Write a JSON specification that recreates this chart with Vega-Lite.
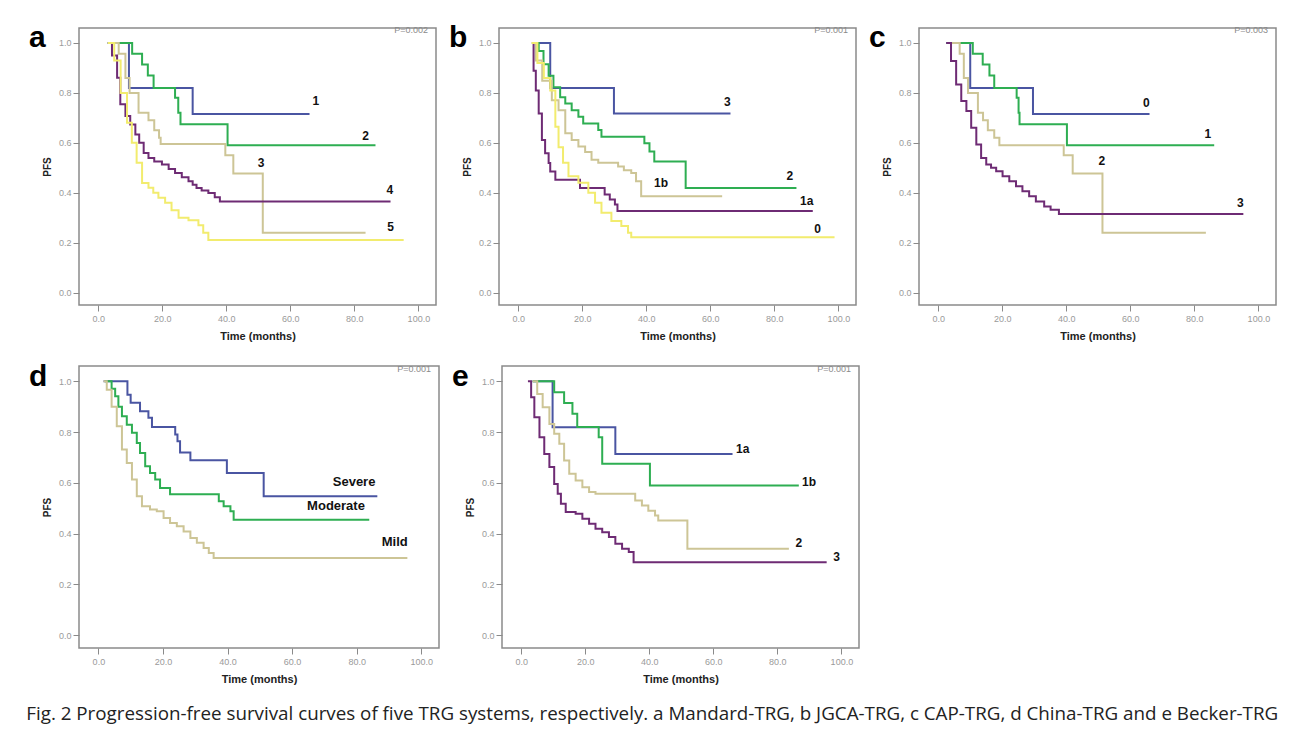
{
 "$schema": "https://vega.github.io/schema/vega-lite/v6.json",
 "padding": {"left": 26, "top": 22, "right": 5, "bottom": 5},
 "datasets": {
  "km": [
   {"p":"a","g":"1","t":3,"s":1},{"p":"a","g":"1","t":9.6,"s":0.82},{"p":"a","g":"1","t":29.5,"s":0.715},{"p":"a","g":"1","t":66,"s":0.715},
   {"p":"a","g":"2","t":3,"s":1},{"p":"a","g":"2","t":10.6,"s":0.957},{"p":"a","g":"2","t":13.7,"s":0.914},{"p":"a","g":"2","t":15.5,"s":0.87},{"p":"a","g":"2","t":17.3,"s":0.82},{"p":"a","g":"2","t":24,"s":0.78},{"p":"a","g":"2","t":25,"s":0.72},{"p":"a","g":"2","t":25.7,"s":0.674},{"p":"a","g":"2","t":40.4,"s":0.59},{"p":"a","g":"2","t":86.6,"s":0.59},
   {"p":"a","g":"3","t":3,"s":1},{"p":"a","g":"3","t":6.4,"s":0.957},{"p":"a","g":"3","t":8.5,"s":0.86},{"p":"a","g":"3","t":9.8,"s":0.8},{"p":"a","g":"3","t":12.6,"s":0.72},{"p":"a","g":"3","t":15.7,"s":0.69},{"p":"a","g":"3","t":17.5,"s":0.65},{"p":"a","g":"3","t":19,"s":0.62},{"p":"a","g":"3","t":19.5,"s":0.595},{"p":"a","g":"3","t":39.7,"s":0.55},{"p":"a","g":"3","t":42.2,"s":0.477},{"p":"a","g":"3","t":51.4,"s":0.24},{"p":"a","g":"3","t":83.5,"s":0.24},
   {"p":"a","g":"4","t":3,"s":1},{"p":"a","g":"4","t":4.3,"s":0.95},{"p":"a","g":"4","t":5.9,"s":0.861},{"p":"a","g":"4","t":6.9,"s":0.754},{"p":"a","g":"4","t":8.5,"s":0.707},{"p":"a","g":"4","t":10,"s":0.673},{"p":"a","g":"4","t":11.6,"s":0.633},{"p":"a","g":"4","t":12.8,"s":0.6},{"p":"a","g":"4","t":14.2,"s":0.559},{"p":"a","g":"4","t":15.7,"s":0.539},{"p":"a","g":"4","t":17.5,"s":0.525},{"p":"a","g":"4","t":19.9,"s":0.513},{"p":"a","g":"4","t":22,"s":0.495},{"p":"a","g":"4","t":24,"s":0.479},{"p":"a","g":"4","t":26.1,"s":0.462},{"p":"a","g":"4","t":28.2,"s":0.446},{"p":"a","g":"4","t":29.5,"s":0.432},{"p":"a","g":"4","t":30.7,"s":0.419},{"p":"a","g":"4","t":32.3,"s":0.409},{"p":"a","g":"4","t":34.4,"s":0.399},{"p":"a","g":"4","t":36.4,"s":0.382},{"p":"a","g":"4","t":38,"s":0.365},{"p":"a","g":"4","t":91.3,"s":0.365},
   {"p":"a","g":"5","t":3,"s":1},{"p":"a","g":"5","t":5,"s":0.93},{"p":"a","g":"5","t":7,"s":0.8},{"p":"a","g":"5","t":9,"s":0.68},{"p":"a","g":"5","t":10.5,"s":0.6},{"p":"a","g":"5","t":12,"s":0.52},{"p":"a","g":"5","t":13.7,"s":0.439},{"p":"a","g":"5","t":15.7,"s":0.42},{"p":"a","g":"5","t":17.2,"s":0.4},{"p":"a","g":"5","t":18.8,"s":0.38},{"p":"a","g":"5","t":20.9,"s":0.36},{"p":"a","g":"5","t":22.9,"s":0.33},{"p":"a","g":"5","t":25.1,"s":0.3},{"p":"a","g":"5","t":28.2,"s":0.29},{"p":"a","g":"5","t":31.3,"s":0.27},{"p":"a","g":"5","t":32.8,"s":0.24},{"p":"a","g":"5","t":34.4,"s":0.21},{"p":"a","g":"5","t":95.4,"s":0.21},

   {"p":"b","g":"3","t":4.3,"s":1},{"p":"b","g":"3","t":10,"s":0.82},{"p":"b","g":"3","t":29.9,"s":0.717},{"p":"b","g":"3","t":66.3,"s":0.717},
   {"p":"b","g":"2","t":4.3,"s":1},{"p":"b","g":"2","t":6.4,"s":0.968},{"p":"b","g":"2","t":7.9,"s":0.915},{"p":"b","g":"2","t":9.5,"s":0.869},{"p":"b","g":"2","t":11,"s":0.823},{"p":"b","g":"2","t":13.1,"s":0.783},{"p":"b","g":"2","t":14.7,"s":0.757},{"p":"b","g":"2","t":16.7,"s":0.73},{"p":"b","g":"2","t":18.8,"s":0.704},{"p":"b","g":"2","t":20.3,"s":0.677},{"p":"b","g":"2","t":25,"s":0.651},{"p":"b","g":"2","t":26,"s":0.624},{"p":"b","g":"2","t":39.4,"s":0.598},{"p":"b","g":"2","t":41,"s":0.565},{"p":"b","g":"2","t":42.5,"s":0.525},{"p":"b","g":"2","t":52.3,"s":0.419},{"p":"b","g":"2","t":86.9,"s":0.419},
   {"p":"b","g":"1b","t":4.2,"s":1},{"p":"b","g":"1b","t":5.5,"s":0.93},{"p":"b","g":"1b","t":7.5,"s":0.849},{"p":"b","g":"1b","t":10.5,"s":0.77},{"p":"b","g":"1b","t":12.6,"s":0.73},{"p":"b","g":"1b","t":14.7,"s":0.638},{"p":"b","g":"1b","t":16.7,"s":0.611},{"p":"b","g":"1b","t":18.8,"s":0.585},{"p":"b","g":"1b","t":20.9,"s":0.563},{"p":"b","g":"1b","t":22.9,"s":0.532},{"p":"b","g":"1b","t":25,"s":0.52},{"p":"b","g":"1b","t":31.2,"s":0.505},{"p":"b","g":"1b","t":33,"s":0.49},{"p":"b","g":"1b","t":35.3,"s":0.479},{"p":"b","g":"1b","t":36.8,"s":0.446},{"p":"b","g":"1b","t":38.4,"s":0.386},{"p":"b","g":"1b","t":63.7,"s":0.386},
   {"p":"b","g":"1a","t":4.3,"s":1},{"p":"b","g":"1a","t":4.8,"s":0.889},{"p":"b","g":"1a","t":5.5,"s":0.81},{"p":"b","g":"1a","t":6.4,"s":0.717},{"p":"b","g":"1a","t":7.4,"s":0.611},{"p":"b","g":"1a","t":8.4,"s":0.558},{"p":"b","g":"1a","t":9.5,"s":0.519},{"p":"b","g":"1a","t":10,"s":0.485},{"p":"b","g":"1a","t":11.6,"s":0.452},{"p":"b","g":"1a","t":19.3,"s":0.419},{"p":"b","g":"1a","t":27,"s":0.393},{"p":"b","g":"1a","t":28.6,"s":0.373},{"p":"b","g":"1a","t":30.2,"s":0.353},{"p":"b","g":"1a","t":31,"s":0.327},{"p":"b","g":"1a","t":92,"s":0.327},
   {"p":"b","g":"0","t":4.2,"s":1},{"p":"b","g":"0","t":6,"s":0.92},{"p":"b","g":"0","t":8,"s":0.86},{"p":"b","g":"0","t":10,"s":0.81},{"p":"b","g":"0","t":11.6,"s":0.664},{"p":"b","g":"0","t":12.6,"s":0.582},{"p":"b","g":"0","t":14,"s":0.52},{"p":"b","g":"0","t":15.7,"s":0.466},{"p":"b","g":"0","t":18.8,"s":0.44},{"p":"b","g":"0","t":21.9,"s":0.4},{"p":"b","g":"0","t":24,"s":0.36},{"p":"b","g":"0","t":26,"s":0.32},{"p":"b","g":"0","t":29.1,"s":0.287},{"p":"b","g":"0","t":32.2,"s":0.267},{"p":"b","g":"0","t":34.3,"s":0.24},{"p":"b","g":"0","t":35.3,"s":0.221},{"p":"b","g":"0","t":98.8,"s":0.221},

   {"p":"c","g":"0","t":2.6,"s":1},{"p":"c","g":"0","t":10,"s":0.82},{"p":"c","g":"0","t":29.6,"s":0.715},{"p":"c","g":"0","t":66,"s":0.715},
   {"p":"c","g":"1","t":2.6,"s":1},{"p":"c","g":"1","t":10.8,"s":0.957},{"p":"c","g":"1","t":13.9,"s":0.914},{"p":"c","g":"1","t":16,"s":0.87},{"p":"c","g":"1","t":17.5,"s":0.82},{"p":"c","g":"1","t":24.5,"s":0.78},{"p":"c","g":"1","t":25.1,"s":0.72},{"p":"c","g":"1","t":25.4,"s":0.674},{"p":"c","g":"1","t":40.2,"s":0.59},{"p":"c","g":"1","t":86.2,"s":0.59},
   {"p":"c","g":"2","t":3,"s":1},{"p":"c","g":"2","t":6.7,"s":0.957},{"p":"c","g":"2","t":8,"s":0.86},{"p":"c","g":"2","t":9.3,"s":0.8},{"p":"c","g":"2","t":12.4,"s":0.72},{"p":"c","g":"2","t":14,"s":0.69},{"p":"c","g":"2","t":15.5,"s":0.65},{"p":"c","g":"2","t":17.5,"s":0.62},{"p":"c","g":"2","t":19.1,"s":0.59},{"p":"c","g":"2","t":39.2,"s":0.55},{"p":"c","g":"2","t":42,"s":0.477},{"p":"c","g":"2","t":51.3,"s":0.24},{"p":"c","g":"2","t":83.6,"s":0.24},
   {"p":"c","g":"3","t":2.5,"s":1},{"p":"c","g":"3","t":4,"s":0.928},{"p":"c","g":"3","t":5.6,"s":0.834},{"p":"c","g":"3","t":7.2,"s":0.767},{"p":"c","g":"3","t":8.8,"s":0.727},{"p":"c","g":"3","t":10.3,"s":0.66},{"p":"c","g":"3","t":11.9,"s":0.593},{"p":"c","g":"3","t":13.4,"s":0.539},{"p":"c","g":"3","t":15,"s":0.513},{"p":"c","g":"3","t":16.5,"s":0.5},{"p":"c","g":"3","t":18.1,"s":0.486},{"p":"c","g":"3","t":20.1,"s":0.466},{"p":"c","g":"3","t":22.2,"s":0.446},{"p":"c","g":"3","t":24.3,"s":0.426},{"p":"c","g":"3","t":26.3,"s":0.406},{"p":"c","g":"3","t":28.4,"s":0.386},{"p":"c","g":"3","t":30.5,"s":0.365},{"p":"c","g":"3","t":33.1,"s":0.345},{"p":"c","g":"3","t":35.1,"s":0.332},{"p":"c","g":"3","t":37.7,"s":0.315},{"p":"c","g":"3","t":95.3,"s":0.315},

   {"p":"d","g":"Severe","t":1.6,"s":1},{"p":"d","g":"Severe","t":9,"s":0.947},{"p":"d","g":"Severe","t":10,"s":0.915},{"p":"d","g":"Severe","t":12.9,"s":0.882},{"p":"d","g":"Severe","t":15.5,"s":0.856},{"p":"d","g":"Severe","t":16.6,"s":0.82},{"p":"d","g":"Severe","t":23.8,"s":0.79},{"p":"d","g":"Severe","t":24.5,"s":0.764},{"p":"d","g":"Severe","t":25.3,"s":0.72},{"p":"d","g":"Severe","t":28.5,"s":0.689},{"p":"d","g":"Severe","t":39.8,"s":0.639},{"p":"d","g":"Severe","t":51.2,"s":0.547},{"p":"d","g":"Severe","t":86.4,"s":0.547},
   {"p":"d","g":"Moderate","t":2,"s":1},{"p":"d","g":"Moderate","t":4.1,"s":0.97},{"p":"d","g":"Moderate","t":5.2,"s":0.941},{"p":"d","g":"Moderate","t":6.2,"s":0.9},{"p":"d","g":"Moderate","t":7.3,"s":0.862},{"p":"d","g":"Moderate","t":8.8,"s":0.829},{"p":"d","g":"Moderate","t":10.4,"s":0.797},{"p":"d","g":"Moderate","t":11.9,"s":0.757},{"p":"d","g":"Moderate","t":12.9,"s":0.718},{"p":"d","g":"Moderate","t":14.5,"s":0.665},{"p":"d","g":"Moderate","t":16,"s":0.639},{"p":"d","g":"Moderate","t":17.6,"s":0.613},{"p":"d","g":"Moderate","t":19.1,"s":0.58},{"p":"d","g":"Moderate","t":22.2,"s":0.555},{"p":"d","g":"Moderate","t":37.3,"s":0.528},{"p":"d","g":"Moderate","t":38.8,"s":0.508},{"p":"d","g":"Moderate","t":40.9,"s":0.488},{"p":"d","g":"Moderate","t":41.9,"s":0.455},{"p":"d","g":"Moderate","t":83.9,"s":0.455},
   {"p":"d","g":"Mild","t":1.6,"s":1},{"p":"d","g":"Mild","t":2.6,"s":0.967},{"p":"d","g":"Mild","t":4.1,"s":0.9},{"p":"d","g":"Mild","t":5.7,"s":0.823},{"p":"d","g":"Mild","t":7.3,"s":0.731},{"p":"d","g":"Mild","t":8.8,"s":0.678},{"p":"d","g":"Mild","t":10.4,"s":0.613},{"p":"d","g":"Mild","t":11.9,"s":0.547},{"p":"d","g":"Mild","t":13.5,"s":0.508},{"p":"d","g":"Mild","t":16,"s":0.495},{"p":"d","g":"Mild","t":18.1,"s":0.488},{"p":"d","g":"Mild","t":20.2,"s":0.462},{"p":"d","g":"Mild","t":22.2,"s":0.442},{"p":"d","g":"Mild","t":24.3,"s":0.429},{"p":"d","g":"Mild","t":26.4,"s":0.409},{"p":"d","g":"Mild","t":28.5,"s":0.383},{"p":"d","g":"Mild","t":30.5,"s":0.364},{"p":"d","g":"Mild","t":32.6,"s":0.344},{"p":"d","g":"Mild","t":34.2,"s":0.324},{"p":"d","g":"Mild","t":35.7,"s":0.304},{"p":"d","g":"Mild","t":95.7,"s":0.304},

   {"p":"e","g":"1a","t":3.6,"s":1},{"p":"e","g":"1a","t":9.8,"s":0.819},{"p":"e","g":"1a","t":29.4,"s":0.714},{"p":"e","g":"1a","t":66,"s":0.714},
   {"p":"e","g":"1b","t":3.6,"s":1},{"p":"e","g":"1b","t":10.3,"s":0.957},{"p":"e","g":"1b","t":13.4,"s":0.914},{"p":"e","g":"1b","t":16,"s":0.872},{"p":"e","g":"1b","t":17.5,"s":0.82},{"p":"e","g":"1b","t":24.2,"s":0.78},{"p":"e","g":"1b","t":25.3,"s":0.675},{"p":"e","g":"1b","t":40.2,"s":0.59},{"p":"e","g":"1b","t":86.7,"s":0.59},
   {"p":"e","g":"2","t":3.6,"s":1},{"p":"e","g":"2","t":5,"s":0.95},{"p":"e","g":"2","t":6.7,"s":0.898},{"p":"e","g":"2","t":8.8,"s":0.832},{"p":"e","g":"2","t":10.3,"s":0.793},{"p":"e","g":"2","t":11.9,"s":0.754},{"p":"e","g":"2","t":13.4,"s":0.688},{"p":"e","g":"2","t":15,"s":0.636},{"p":"e","g":"2","t":17,"s":0.609},{"p":"e","g":"2","t":19.1,"s":0.583},{"p":"e","g":"2","t":21.2,"s":0.564},{"p":"e","g":"2","t":23.2,"s":0.557},{"p":"e","g":"2","t":35.6,"s":0.531},{"p":"e","g":"2","t":37.7,"s":0.511},{"p":"e","g":"2","t":39.7,"s":0.49},{"p":"e","g":"2","t":41.8,"s":0.472},{"p":"e","g":"2","t":42.8,"s":0.452},{"p":"e","g":"2","t":51.9,"s":0.341},{"p":"e","g":"2","t":83.6,"s":0.341},
   {"p":"e","g":"3","t":2.1,"s":1},{"p":"e","g":"3","t":3.1,"s":0.937},{"p":"e","g":"3","t":4.1,"s":0.858},{"p":"e","g":"3","t":5.7,"s":0.78},{"p":"e","g":"3","t":7.2,"s":0.714},{"p":"e","g":"3","t":8.8,"s":0.662},{"p":"e","g":"3","t":10.3,"s":0.596},{"p":"e","g":"3","t":11.4,"s":0.557},{"p":"e","g":"3","t":12.4,"s":0.518},{"p":"e","g":"3","t":13.9,"s":0.485},{"p":"e","g":"3","t":17,"s":0.478},{"p":"e","g":"3","t":19.1,"s":0.459},{"p":"e","g":"3","t":21.2,"s":0.439},{"p":"e","g":"3","t":23.2,"s":0.419},{"p":"e","g":"3","t":25.3,"s":0.406},{"p":"e","g":"3","t":27.4,"s":0.387},{"p":"e","g":"3","t":29.4,"s":0.36},{"p":"e","g":"3","t":31.5,"s":0.341},{"p":"e","g":"3","t":33.6,"s":0.328},{"p":"e","g":"3","t":35.1,"s":0.288},{"p":"e","g":"3","t":95.4,"s":0.288}
  ],
  "lab": [
   {"p":"a","g":"1","t":68,"s":0.767},{"p":"a","g":"2","t":83.5,"s":0.627},{"p":"a","g":"3","t":50.9,"s":0.519},{"p":"a","g":"4","t":91.1,"s":0.412},{"p":"a","g":"5","t":91.3,"s":0.261},
   {"p":"b","g":"3","t":65.3,"s":0.762},{"p":"b","g":"2","t":84.8,"s":0.468},{"p":"b","g":"1b","t":44.6,"s":0.44},{"p":"b","g":"1a","t":90.1,"s":0.365},{"p":"b","g":"0","t":93.5,"s":0.254},
   {"p":"c","g":"0","t":65,"s":0.759},{"p":"c","g":"1","t":84.2,"s":0.635},{"p":"c","g":"2","t":51.1,"s":0.526},{"p":"c","g":"3","t":94.4,"s":0.357},
   {"p":"d","g":"Severe","t":79.2,"s":0.605},{"p":"d","g":"Moderate","t":73.6,"s":0.507},{"p":"d","g":"Mild","t":91.8,"s":0.369},
   {"p":"e","g":"1a","t":69.2,"s":0.735},{"p":"e","g":"1b","t":89.9,"s":0.602},{"p":"e","g":"2","t":86.7,"s":0.362},{"p":"e","g":"3","t":98.5,"s":0.307}
  ],
  "pv": [
   {"p":"a","txt":"P=0.002","t":103,"s":1.05},{"p":"b","txt":"P=0.001","t":103,"s":1.05},{"p":"c","txt":"P=0.003","t":103,"s":1.05},{"p":"d","txt":"P=0.001","t":103,"s":1.05},{"p":"e","txt":"P=0.001","t":103,"s":1.05}
  ]
 },
 "title": {"text": "Fig. 2 Progression-free survival curves of five TRG systems, respectively. a Mandard-TRG, b JGCA-TRG, c CAP-TRG, d China-TRG and e Becker-TRG", "orient": "bottom", "anchor": "start", "frame": "bounds", "font": "Open Sans, sans-serif", "fontSize": 18.8, "fontWeight": "normal", "color": "#222", "offset": 20, "dx": -2, "dy": 0, "baseline": "top", "align": "left"},
 "spacing": 18,
 "resolve": {"scale": {"color": "independent"}},
 "vconcat": [
  {"hconcat": [
   {"width": 357, "height": 277, "title": {"text": "a", "dx": -50, "dy": 31},
    "layer": [
     {"data": {"name": "km"}, "transform": [{"filter": "datum.p === 'a'"}], "mark": {"type": "line", "interpolate": "step-after", "strokeWidth": 2},
      "encoding": {"x": {"field": "t", "type": "quantitative", "scale": {"domain": [-6, 105.5], "nice": false, "zero": false}, "axis": {"values": [0,20,40,60,80,100], "format": ".1f", "title": "Time (months)"}},
                   "y": {"field": "s", "type": "quantitative", "scale": {"domain": [-0.05, 1.06], "nice": false, "zero": false}, "axis": {"values": [0,0.2,0.4,0.6,0.8,1], "format": ".1f", "title": "PFS"}},
                   "color": {"field": "g", "type": "nominal", "scale": {"domain": ["1","2","3","4","5"], "range": ["#4a55a2","#2eae52","#cdc596","#6e2b74","#f2ec6e"]}, "legend": null}}},
     {"data": {"name": "lab"}, "transform": [{"filter": "datum.p === 'a'"}], "mark": {"type": "text", "fontWeight": "bold", "fontSize": 12, "color": "#111"},
      "encoding": {"x": {"field": "t", "type": "quantitative"}, "y": {"field": "s", "type": "quantitative"}, "text": {"field": "g"}}},
     {"data": {"name": "pv"}, "transform": [{"filter": "datum.p === 'a'"}], "mark": {"type": "text", "align": "right", "fontSize": 9, "color": "#8a8a8a"},
      "encoding": {"x": {"field": "t", "type": "quantitative"}, "y": {"field": "s", "type": "quantitative"}, "text": {"field": "txt"}}}
    ]},
   {"width": 357, "height": 277, "title": {"text": "b", "dx": -50, "dy": 31},
    "layer": [
     {"data": {"name": "km"}, "transform": [{"filter": "datum.p === 'b'"}], "mark": {"type": "line", "interpolate": "step-after", "strokeWidth": 2},
      "encoding": {"x": {"field": "t", "type": "quantitative", "scale": {"domain": [-6, 105.5], "nice": false, "zero": false}, "axis": {"values": [0,20,40,60,80,100], "format": ".1f", "title": "Time (months)"}},
                   "y": {"field": "s", "type": "quantitative", "scale": {"domain": [-0.05, 1.06], "nice": false, "zero": false}, "axis": {"values": [0,0.2,0.4,0.6,0.8,1], "format": ".1f", "title": "PFS"}},
                   "color": {"field": "g", "type": "nominal", "scale": {"domain": ["3","2","1b","1a","0"], "range": ["#4a55a2","#2eae52","#cdc596","#6e2b74","#f2ec6e"]}, "legend": null}}},
     {"data": {"name": "lab"}, "transform": [{"filter": "datum.p === 'b'"}], "mark": {"type": "text", "fontWeight": "bold", "fontSize": 12, "color": "#111"},
      "encoding": {"x": {"field": "t", "type": "quantitative"}, "y": {"field": "s", "type": "quantitative"}, "text": {"field": "g"}}},
     {"data": {"name": "pv"}, "transform": [{"filter": "datum.p === 'b'"}], "mark": {"type": "text", "align": "right", "fontSize": 9, "color": "#8a8a8a"},
      "encoding": {"x": {"field": "t", "type": "quantitative"}, "y": {"field": "s", "type": "quantitative"}, "text": {"field": "txt"}}}
    ]},
   {"width": 357, "height": 277, "title": {"text": "c", "dx": -50, "dy": 31},
    "layer": [
     {"data": {"name": "km"}, "transform": [{"filter": "datum.p === 'c'"}], "mark": {"type": "line", "interpolate": "step-after", "strokeWidth": 2},
      "encoding": {"x": {"field": "t", "type": "quantitative", "scale": {"domain": [-6, 105.5], "nice": false, "zero": false}, "axis": {"values": [0,20,40,60,80,100], "format": ".1f", "title": "Time (months)"}},
                   "y": {"field": "s", "type": "quantitative", "scale": {"domain": [-0.05, 1.06], "nice": false, "zero": false}, "axis": {"values": [0,0.2,0.4,0.6,0.8,1], "format": ".1f", "title": "PFS"}},
                   "color": {"field": "g", "type": "nominal", "scale": {"domain": ["0","1","2","3"], "range": ["#4a55a2","#2eae52","#cdc596","#6e2b74"]}, "legend": null}}},
     {"data": {"name": "lab"}, "transform": [{"filter": "datum.p === 'c'"}], "mark": {"type": "text", "fontWeight": "bold", "fontSize": 12, "color": "#111"},
      "encoding": {"x": {"field": "t", "type": "quantitative"}, "y": {"field": "s", "type": "quantitative"}, "text": {"field": "g"}}},
     {"data": {"name": "pv"}, "transform": [{"filter": "datum.p === 'c'"}], "mark": {"type": "text", "align": "right", "fontSize": 9, "color": "#8a8a8a"},
      "encoding": {"x": {"field": "t", "type": "quantitative"}, "y": {"field": "s", "type": "quantitative"}, "text": {"field": "txt"}}}
    ]}
  ], "spacing": 11, "resolve": {"scale": {"color": "independent"}}},
  {"hconcat": [
   {"width": 360, "height": 282, "title": {"text": "d", "dx": -50, "dy": 31},
    "layer": [
     {"data": {"name": "km"}, "transform": [{"filter": "datum.p === 'd'"}], "mark": {"type": "line", "interpolate": "step-after", "strokeWidth": 2},
      "encoding": {"x": {"field": "t", "type": "quantitative", "scale": {"domain": [-6, 105.5], "nice": false, "zero": false}, "axis": {"values": [0,20,40,60,80,100], "format": ".1f", "title": "Time (months)"}},
                   "y": {"field": "s", "type": "quantitative", "scale": {"domain": [-0.05, 1.06], "nice": false, "zero": false}, "axis": {"values": [0,0.2,0.4,0.6,0.8,1], "format": ".1f", "title": "PFS"}},
                   "color": {"field": "g", "type": "nominal", "scale": {"domain": ["Severe","Moderate","Mild"], "range": ["#4a55a2","#2eae52","#cdc596"]}, "legend": null}}},
     {"data": {"name": "lab"}, "transform": [{"filter": "datum.p === 'd'"}], "mark": {"type": "text", "fontWeight": "bold", "fontSize": 13, "color": "#111"},
      "encoding": {"x": {"field": "t", "type": "quantitative"}, "y": {"field": "s", "type": "quantitative"}, "text": {"field": "g"}}},
     {"data": {"name": "pv"}, "transform": [{"filter": "datum.p === 'd'"}], "mark": {"type": "text", "align": "right", "fontSize": 9, "color": "#8a8a8a"},
      "encoding": {"x": {"field": "t", "type": "quantitative"}, "y": {"field": "s", "type": "quantitative"}, "text": {"field": "txt"}}}
    ]},
   {"width": 357, "height": 282, "title": {"text": "e", "dx": -50, "dy": 31},
    "layer": [
     {"data": {"name": "km"}, "transform": [{"filter": "datum.p === 'e'"}], "mark": {"type": "line", "interpolate": "step-after", "strokeWidth": 2},
      "encoding": {"x": {"field": "t", "type": "quantitative", "scale": {"domain": [-6, 105.5], "nice": false, "zero": false}, "axis": {"values": [0,20,40,60,80,100], "format": ".1f", "title": "Time (months)"}},
                   "y": {"field": "s", "type": "quantitative", "scale": {"domain": [-0.05, 1.06], "nice": false, "zero": false}, "axis": {"values": [0,0.2,0.4,0.6,0.8,1], "format": ".1f", "title": "PFS"}},
                   "color": {"field": "g", "type": "nominal", "scale": {"domain": ["1a","1b","2","3"], "range": ["#4a55a2","#2eae52","#cdc596","#6e2b74"]}, "legend": null}}},
     {"data": {"name": "lab"}, "transform": [{"filter": "datum.p === 'e'"}], "mark": {"type": "text", "fontWeight": "bold", "fontSize": 12, "color": "#111"},
      "encoding": {"x": {"field": "t", "type": "quantitative"}, "y": {"field": "s", "type": "quantitative"}, "text": {"field": "g"}}},
     {"data": {"name": "pv"}, "transform": [{"filter": "datum.p === 'e'"}], "mark": {"type": "text", "align": "right", "fontSize": 9, "color": "#8a8a8a"},
      "encoding": {"x": {"field": "t", "type": "quantitative"}, "y": {"field": "s", "type": "quantitative"}, "text": {"field": "txt"}}}
    ]}
  ], "spacing": 11, "resolve": {"scale": {"color": "independent"}}}
 ],
 "config": {
  "view": {"stroke": "#8a8a8a", "strokeWidth": 1.5},
  "axis": {"domain": false, "grid": false, "ticks": true, "tickColor": "#8a8a8a", "tickSize": 6, "labelColor": "#9a9a9a", "labelFontSize": 9, "labelFont": "Liberation Sans", "titleFont": "Liberation Sans", "titleFontSize": 11, "titleFontWeight": "bold", "titleColor": "#222", "labelPadding": 3},
  "axisX": {"titlePadding": 7},
  "axisY": {"titlePadding": 6, "labelPadding": 2, "titleFontSize": 10},
  "title": {"anchor": "start", "frame": "group", "fontSize": 30, "fontWeight": "bold", "font": "Liberation Sans", "color": "#000", "baseline": "alphabetic", "align": "left"},
  "text": {"font": "Liberation Sans"}
 }
}
